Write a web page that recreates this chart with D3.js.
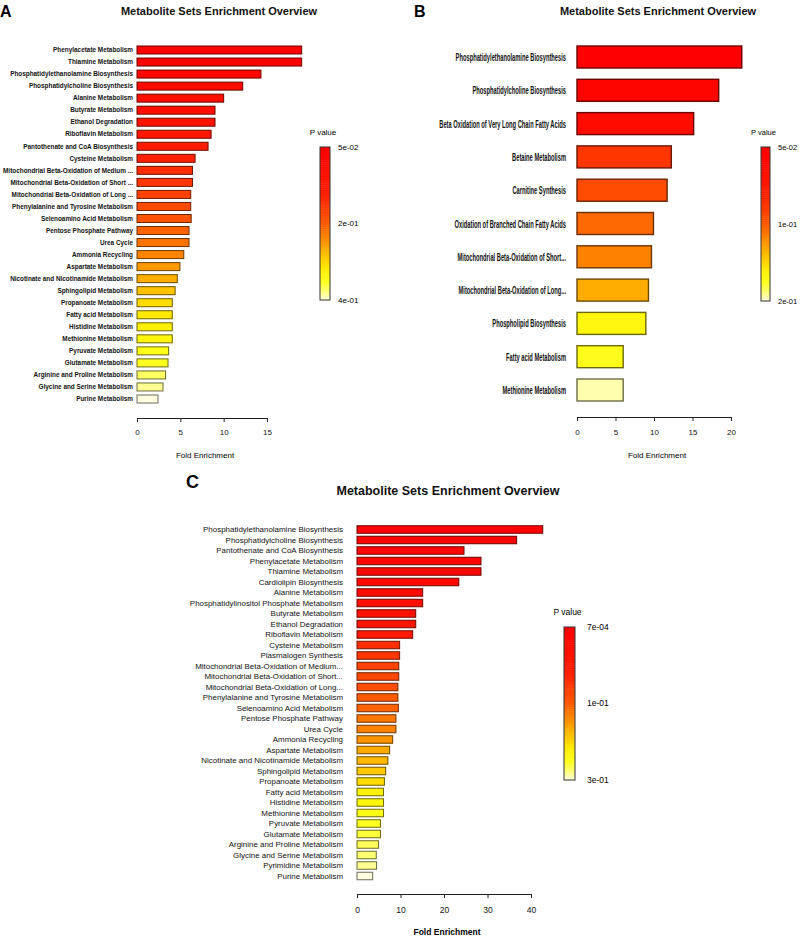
<!DOCTYPE html>
<html>
<head>
<meta charset="utf-8">
<script src="https://cdn.jsdelivr.net/npm/d3@7"></script>
<style>
  body { margin: 0; background: #fff; }
  svg { display: block; font-family: "Liberation Sans", Arial, sans-serif; }
</style>
</head>
<body>
<div id="chart"></div>
<script>
// ---- panel A data ----
const labelsA = ["Phenylacetate Metabolism", "Thiamine Metabolism", "Phosphatidylethanolamine Biosynthesis",
  "Phosphatidylcholine Biosynthesis", "Alanine Metabolism", "Butyrate Metabolism", "Ethanol Degradation",
  "Riboflavin Metabolism", "Pantothenate and CoA Biosynthesis", "Cysteine Metabolism",
  "Mitochondrial Beta-Oxidation of Medium ...", "Mitochondrial Beta-Oxidation of Short ...",
  "Mitochondrial Beta-Oxidation of Long ...", "Phenylalanine and Tyrosine Metabolism",
  "Selenoamino Acid Metabolism", "Pentose Phosphate Pathway", "Urea Cycle", "Ammonia Recycling",
  "Aspartate Metabolism", "Nicotinate and Nicotinamide Metabolism", "Sphingolipid Metabolism",
  "Propanoate Metabolism", "Fatty acid Metabolism", "Histidine Metabolism", "Methionine Metabolism",
  "Pyruvate Metabolism", "Glutamate Metabolism", "Arginine and Proline Metabolism",
  "Glycine and Serine Metabolism", "Purine Metabolism"];
const foldA = [19.0, 19.0, 14.3, 12.2, 10.0, 9.0, 9.0, 8.55, 8.2, 6.7, 6.4, 6.4, 6.2, 6.2, 6.25,
  6.0, 6.0, 5.4, 4.95, 4.65, 4.4, 4.07, 4.07, 4.07, 4.07, 3.65, 3.58, 3.3, 3.0, 2.42];
const pA = [0.050, 0.057, 0.074, 0.085, 0.099, 0.110, 0.120, 0.134, 0.148, 0.159, 0.172, 0.183,
  0.197, 0.207, 0.218, 0.232, 0.243, 0.256, 0.270, 0.285, 0.298, 0.316, 0.326, 0.333, 0.340,
  0.351, 0.358, 0.375, 0.386, 0.400];
const ticksA = [0, 5, 10, 15];
const pRangeA = [0.05, 0.40];
const legendLabelsA = ["5e-02", "2e-01", "4e-01"];

// ---- panel B data ----
const labelsB = ["Phosphatidylethanolamine Biosynthesis", "Phosphatidylcholine Biosynthesis",
  "Beta Oxidation of Very Long Chain Fatty Acids", "Betaine Metabolism", "Carnitine Synthesis",
  "Oxidation of Branched Chain Fatty Acids", "Mitochondrial Beta-Oxidation of Short...",
  "Mitochondrial Beta-Oxidation of Long...", "Phospholipid Biosynthesis", "Fatty acid Metabolism",
  "Methionine Metabolism"];
const foldB = [21.4, 18.4, 15.15, 12.25, 11.7, 9.93, 9.67, 9.28, 8.94, 6.0, 6.0];
const pB = [0.050, 0.058, 0.068, 0.107, 0.118, 0.130, 0.137, 0.150, 0.176, 0.180, 0.196];
const ticksB = [0, 5, 10, 15, 20];
const pRangeB = [0.05, 0.20];
const legendLabelsB = ["5e-02", "1e-01", "2e-01"];

// ---- panel C data ----
const labelsC = ["Phosphatidylethanolamine Biosynthesis", "Phosphatidylcholine Biosynthesis",
  "Pantothenate and CoA Biosynthesis", "Phenylacetate Metabolism", "Thiamine Metabolism",
  "Cardiolipin Biosynthesis", "Alanine Metabolism", "Phosphatidylinositol Phosphate Metabolism",
  "Butyrate Metabolism", "Ethanol Degradation", "Riboflavin Metabolism", "Cysteine Metabolism",
  "Plasmalogen Synthesis", "Mitochondrial Beta-Oxidation of Medium...",
  "Mitochondrial Beta-Oxidation of Short...", "Mitochondrial Beta-Oxidation of Long...",
  "Phenylalanine and Tyrosine Metabolism", "Selenoamino Acid Metabolism", "Pentose Phosphate Pathway",
  "Urea Cycle", "Ammonia Recycling", "Aspartate Metabolism", "Nicotinate and Nicotinamide Metabolism",
  "Sphingolipid Metabolism", "Propanoate Metabolism", "Fatty acid Metabolism", "Histidine Metabolism",
  "Methionine Metabolism", "Pyruvate Metabolism", "Glutamate Metabolism",
  "Arginine and Proline Metabolism", "Glycine and Serine Metabolism", "Pyrimidine Metabolism",
  "Purine Metabolism"];
const foldC = [42.7, 36.7, 24.6, 28.5, 28.5, 23.4, 15.1, 15.1, 13.5, 13.5, 12.8, 9.8, 9.8, 9.6,
  9.6, 9.4, 9.4, 9.5, 8.95, 8.95, 8.2, 7.5, 7.1, 6.6, 6.3, 6.1, 6.1, 6.1, 5.4, 5.4, 4.96, 4.43,
  4.5, 3.6];
const pC = [0.0007, 0.0067, 0.0127, 0.0187, 0.0246, 0.0306, 0.0396, 0.0486, 0.0576, 0.0665, 0.0755,
  0.1085, 0.1144, 0.1264, 0.1324, 0.1384, 0.1504, 0.1563, 0.1683, 0.1743, 0.1863, 0.1982, 0.2072,
  0.2162, 0.2282, 0.2461, 0.2521, 0.2581, 0.2641, 0.2701, 0.276, 0.282, 0.288, 0.300];
const ticksC = [0, 10, 20, 30, 40];
const pRangeC = [0.0007, 0.30];
const legendLabelsC = ["7e-04", "1e-01", "3e-01"];

const title = "Metabolite Sets Enrichment Overview";

// heat palette, red (low p) to pale yellow (high p)
const heat = d3.scaleLinear()
  .domain([0, 0.3, 0.5, 0.62, 0.72, 0.8, 0.88, 0.95, 1])
  .range(["#ff0000", "#ff1e00", "#ff5a00", "#ff9400", "#ffc800", "#ffee00", "#ffff20", "#ffff80", "#ffffe0"])
  .interpolate(d3.interpolateRgb);

const svg = d3.select("#chart").append("svg")
  .attr("width", 806)
  .attr("height", 936);

function drawPanel(cfg, labels, fold, pvals, ticks, pRange, legendLabels) {
  let g = svg.append("g");
  const x = d3.scaleLinear().domain([0, ticks[ticks.length - 1]]).range([cfg.x0, cfg.x1]);
  const y = d3.scalePoint().domain(labels).range([cfg.yTop, cfg.yBot]);
  const t = d3.scaleLinear().domain(pRange).range([0, 1]);

  // panel letter + title
  g.append("text").attr("x", cfg.letter[0]).attr("y", cfg.letter[1])
    .attr("font-size", cfg.letter[2]).attr("font-weight", "bold").text(cfg.name);
  g.append("text").attr("x", cfg.title[0]).attr("y", cfg.title[1])
    .attr("text-anchor", "middle").attr("font-size", cfg.title[2])
    .attr("font-weight", "bold").attr("fill", "#111").text(title);

  // bars
  g.selectAll("rect.bar").data(labels).join("rect")
    .attr("class", "bar")
    .attr("x", x(0))
    .attr("y", d => y(d) - cfg.barH / 2)
    .attr("width", (d, i) => x(fold[i]) - x(0))
    .attr("height", cfg.barH)
    .attr("fill", (d, i) => heat(t(pvals[i])))
    .attr("stroke", (d, i) => d3.color(heat(t(pvals[i]))).darker(2.4))
    .attr("stroke-width", cfg.barStroke);

  // category labels
  g.selectAll("text.lab").data(labels).join("text")
    .attr("class", "lab")
    .attr("transform", d => `translate(${cfg.labelX},${y(d)}) scale(${cfg.labelScale},1)`)
    .attr("text-anchor", "end")
    .attr("dy", "0.35em")
    .attr("font-size", cfg.labelSize)
    .attr("font-weight", cfg.labelWeight)
    .attr("fill", "#111")
    .text(d => d);

  // x axis
  let axis = g.append("g").attr("transform", `translate(0,${cfg.axisY})`)
    .call(d3.axisBottom(x).tickValues(ticks).tickSize(4).tickSizeOuter(0).tickPadding(cfg.tickPad));
  axis.selectAll("text").attr("font-size", cfg.tickSize).attr("fill", "#111");
  axis.selectAll("path, line").attr("stroke", "#222");
  g.append("text").attr("x", (cfg.x0 + cfg.x1) / 2 + 3).attr("y", cfg.xlabY)
    .attr("text-anchor", "middle").attr("font-size", cfg.tickSize)
    .attr("font-weight", cfg.xlabWeight).text("Fold Enrichment");

  // p value legend
  const lg = cfg.legend;
  const ly = d3.scaleLinear().domain([0, 1]).range([lg.top, lg.bot]);
  const strips = d3.range(0, 1, 1 / 80);
  g.selectAll("rect.strip").data(strips).join("rect")
    .attr("class", "strip")
    .attr("x", lg.x).attr("width", lg.w)
    .attr("y", d => ly(d)).attr("height", ly(1 / 80) - ly(0) + 0.5)
    .attr("fill", d => heat(d + 0.5 / 80));
  g.append("rect").attr("x", lg.x).attr("y", lg.top).attr("width", lg.w)
    .attr("height", lg.bot - lg.top).attr("fill", "none").attr("stroke", "#333").attr("stroke-width", 1);
  g.append("text").attr("x", lg.x + lg.w / 2 - 2).attr("y", lg.top - 12)
    .attr("text-anchor", "middle").attr("font-size", lg.size).text("P value");
  g.selectAll("text.lt").data(legendLabels).join("text")
    .attr("class", "lt")
    .attr("x", lg.x + lg.w + lg.gap)
    .attr("y", (d, i) => ly(i / (legendLabels.length - 1)))
    .attr("dy", "0.35em")
    .attr("font-size", lg.size)
    .text(d => d);
}

drawPanel({
  name: "A", letter: [0, 17, 16], title: [219, 15, 11],
  x0: 137, x1: 267, yTop: 50, yBot: 399, barH: 8, barStroke: 1,
  labelX: 133, labelSize: 6.4, labelWeight: "bold", labelScale: 1,
  axisY: 418, tickPad: 7, tickSize: 8, xlabY: 458, xlabWeight: "normal",
  legend: { x: 320, w: 10, top: 147, bot: 300, size: 8, gap: 8 }
}, labelsA, foldA, pA, ticksA, pRangeA, legendLabelsA);

drawPanel({
  name: "B", letter: [414, 17, 16], title: [658, 15, 11],
  x0: 577, x1: 731, yTop: 57, yBot: 390, barH: 22, barStroke: 1.4,
  labelX: 566, labelSize: 11.5, labelWeight: "bold", labelScale: 0.5,
  axisY: 417, tickPad: 8, tickSize: 8, xlabY: 458, xlabWeight: "normal",
  legend: { x: 761, w: 9, top: 147, bot: 301, size: 7.5, gap: 8 }
}, labelsB, foldB, pB, ticksB, pRangeB, legendLabelsB);

drawPanel({
  name: "C", letter: [186, 488, 18], title: [448, 495, 12.5],
  x0: 357, x1: 531, yTop: 529.5, yBot: 876, barH: 7.5, barStroke: 1,
  labelX: 343, labelSize: 7.5, labelWeight: "normal", labelScale: 1.06,
  axisY: 894, tickPad: 9, tickSize: 8.5, xlabY: 935, xlabWeight: "bold",
  legend: { x: 564, w: 11, top: 627, bot: 780, size: 8.5, gap: 12 }
}, labelsC, foldC, pC, ticksC, pRangeC, legendLabelsC);
</script>
</body>
</html>
